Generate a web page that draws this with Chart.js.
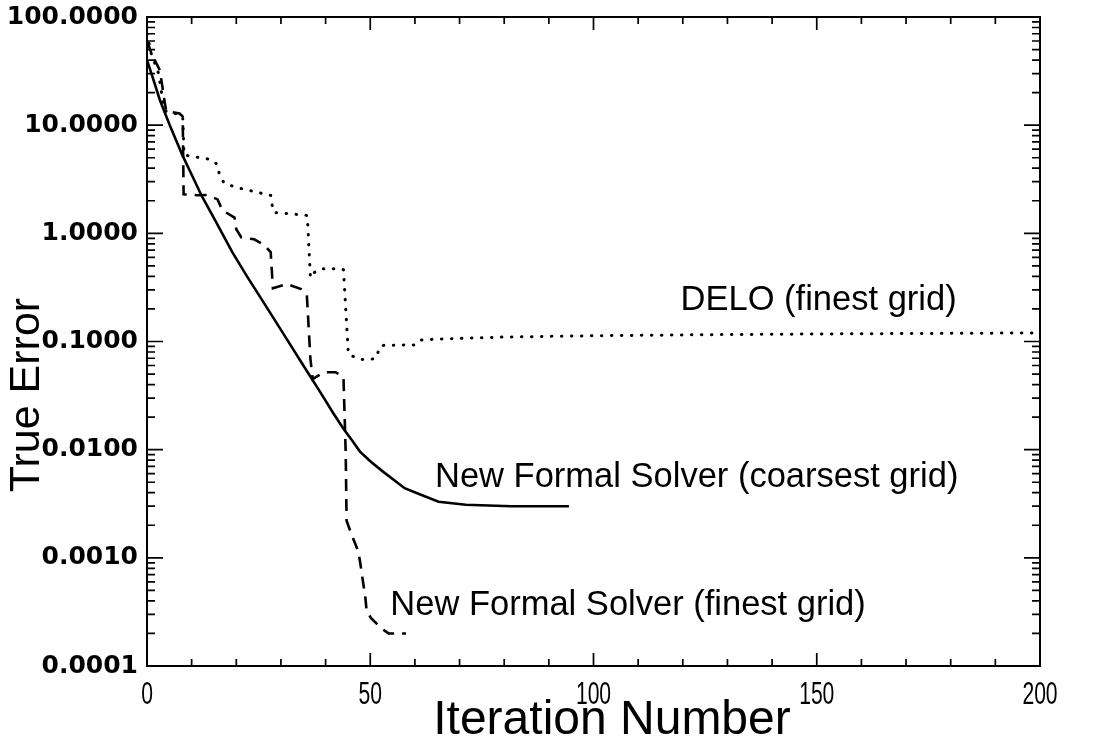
<!DOCTYPE html>
<html><head><meta charset="utf-8">
<script src="https://cdn.jsdelivr.net/npm/chart.js@4/dist/chart.umd.min.js"></script>
<style>html,body{margin:0;padding:0;background:#fff;}canvas{display:block;}</style>
</head><body>
<canvas id="c" width="1096" height="742"></canvas>
<script>
// ---- data ----
const coarseX = [0, 1, 2.9, 5.1, 8.0, 10.2, 12.2, 15.3, 19.1, 22.4, 26.5, 30.6, 34.7, 38.8, 41.8, 44, 45.9, 47.7, 50.2, 53, 57.7, 61.2, 65.3, 71.4, 81.6, 94.5];
const coarseY = [40, 30, 17, 10, 5.2, 3.35, 2.24, 1.31, 0.67, 0.40, 0.217, 0.117, 0.063, 0.034, 0.0215, 0.0156, 0.0122, 0.0096, 0.0077, 0.0062, 0.0044, 0.00385, 0.0033, 0.0031, 0.0030, 0.0030];

const finestX = [0, 1, 2.9, 4.0, 4.3, 7.3, 8.0, 8.2, 11.2, 13.6, 15.8, 16.9, 19.6, 20, 21.1, 24, 26.2, 27.7, 28.2, 31.3, 34.5, 35.8, 36.6, 37.1, 39.6, 42.2, 44, 44.5, 44.7, 45.8, 47.3, 47.7, 48.9, 49.2, 50.2, 52.4, 54.1, 58];
const finestY = [60, 46, 32, 16, 13.5, 12.8, 12, 2.3, 2.25, 2.26, 2.06, 1.63, 1.40, 1.09, 0.92, 0.88, 0.78, 0.67, 0.31, 0.34, 0.305, 0.27, 0.069, 0.045, 0.052, 0.052, 0.047, 0.0095, 0.0022, 0.00165, 0.00115, 0.00093, 0.00043, 0.00032, 0.000277, 0.000224, 0.0002, 0.0002];

const deloX = [0, 1, 2.6, 3.6, 4.1, 7.3, 8.0, 8.3, 14.5, 15.8, 16.2, 17.3, 20.2, 27.7, 27.9, 28.4, 35.6, 35.9, 36.6, 36.9, 38.8, 43.6, 44, 45.1, 47.9, 51.1, 52.4, 60, 61.2, 64.3, 80, 100, 130, 160, 200];
const deloY = [70, 45, 30, 16, 13.5, 12.5, 12, 5.3, 4.8, 4.3, 3.5, 2.9, 2.65, 2.24, 1.93, 1.56, 1.47, 1.45, 0.39, 0.42, 0.47, 0.47, 0.46, 0.076, 0.068, 0.069, 0.092, 0.093, 0.103, 0.105, 0.110, 0.113, 0.116, 0.118, 0.120];

const xTickLabels = ['0', '50', '100', '150', '200'];
const xLabelStep = 50;
const yDecades = [0.0001, 0.001, 0.01, 0.1, 1, 10, 100];
const yTickLabels = ['0.0001', '0.0010', '0.0100', '0.1000', '1.0000', '10.0000', '100.0000'];
const yMinorMultipliers = [2, 3, 4, 5, 6, 7, 8, 9];

const xTitle = 'Iteration Number';
const yTitle = 'True Error';
const noteTexts = ['DELO (finest grid)', 'New Formal Solver (coarsest grid)', 'New Formal Solver (finest grid)'];
const noteX = [119.5, 64.5, 54.5];
const noteY = [0.194, 0.00454, 0.000297];

// ---- helpers ----
const pts = (xs, ys) => xs.map((x, i) => ({x: x, y: ys[i]}));
const isDecade = v => Math.abs(Math.log10(v) - Math.round(Math.log10(v))) < 1e-9;
const yTickValues = [];
yDecades.forEach((d, i) => {
  yTickValues.push(d);
  if (i < yDecades.length - 1) yMinorMultipliers.forEach(m => yTickValues.push(d * m));
});

const frameTicks = {
  id: 'frameTicks',
  afterDatasetsDraw(chart) {
    const {ctx, chartArea: a, scales: {x, y}} = chart;
    ctx.save();
    ctx.strokeStyle = '#000';
    ctx.lineWidth = 2;
    ctx.strokeRect(a.left, a.top, a.right - a.left, a.bottom - a.top);
    ctx.lineWidth = 1.7;
    ctx.beginPath();
    x.ticks.forEach(t => {
      const px = x.getPixelForValue(t.value);
      const len = (t.value % xLabelStep === 0) ? 13 : 7;
      ctx.moveTo(px, a.bottom); ctx.lineTo(px, a.bottom - len);
      ctx.moveTo(px, a.top); ctx.lineTo(px, a.top + len);
    });
    y.ticks.forEach(t => {
      const py = y.getPixelForValue(t.value);
      const len = isDecade(t.value) ? 16 : 8;
      ctx.moveTo(a.left, py); ctx.lineTo(a.left + len, py);
      ctx.moveTo(a.right, py); ctx.lineTo(a.right - len, py);
    });
    ctx.stroke();
    ctx.fillStyle = '#000';
    // x tick labels (narrow face, positioned by the x scale)
    ctx.font = "32px 'Liberation Sans', Arial, sans-serif";
    ctx.textAlign = 'center';
    ctx.textBaseline = 'alphabetic';
    x.ticks.forEach(t => {
      if (t.value % xLabelStep !== 0) return;
      ctx.save();
      ctx.translate(x.getPixelForValue(t.value), a.bottom + 38);
      ctx.scale(0.66, 1);
      ctx.fillText(xTickLabels[t.value / xLabelStep], 0, 0);
      ctx.restore();
    });
    // annotations
    ctx.font = "34.5px 'Liberation Sans', Arial, sans-serif";
    ctx.textAlign = 'left';
    noteTexts.forEach((txt, i) => {
      ctx.fillText(txt, x.getPixelForValue(noteX[i]), y.getPixelForValue(noteY[i]));
    });
    // axis titles
    ctx.textAlign = 'center';
    ctx.font = "48px 'Liberation Sans', Arial, sans-serif";
    ctx.fillText(xTitle, 612, 734);
    ctx.save();
    ctx.translate(39, 395);
    ctx.rotate(-Math.PI / 2);
    ctx.font = "43px 'Liberation Sans', Arial, sans-serif";
    ctx.fillText(yTitle, 0, 0);
    ctx.restore();
    ctx.restore();
  }
};

const common = {pointRadius: 0, borderColor: '#000', borderWidth: 2.6, tension: 0, fill: false};

new Chart(document.getElementById('c'), {
  type: 'line',
  data: {
    datasets: [
      Object.assign({label: 'New Formal Solver (coarsest grid)', data: pts(coarseX, coarseY)}, common),
      Object.assign({label: 'New Formal Solver (finest grid)', data: pts(finestX, finestY), borderDash: [12, 8]}, common),
      Object.assign({label: 'DELO (finest grid)', data: pts(deloX, deloY)}, common, {borderDash: [0.5, 9.5], borderCapStyle: 'round', borderWidth: 3})
    ]
  },
  options: {
    responsive: false,
    animation: false,
    devicePixelRatio: 1,
    layout: {padding: {top: 17, right: 56, left: 0, bottom: 0}},
    plugins: {legend: {display: false}, tooltip: {enabled: false}},
    scales: {
      x: {
        type: 'linear', min: 0, max: 200,
        afterFit: s => { s.height = 76; s.paddingLeft = 0; s.paddingRight = 0; },
        grid: {display: false, drawTicks: false},
        border: {display: false},
        ticks: {
          stepSize: 10, autoSkip: false, maxRotation: 0, display: false
        },
        title: {display: false}
      },
      y: {
        type: 'logarithmic', min: 0.0001, max: 100,
        afterFit: s => { s.width = 147; s.paddingTop = 0; s.paddingBottom = 0; },
        afterBuildTicks: s => { s.ticks = yTickValues.map(v => ({value: v})); },
        grid: {display: false, drawTicks: false},
        border: {display: false},
        ticks: {
          autoSkip: false, padding: 9, color: '#000',
          font: {family: "'DejaVu Sans', sans-serif", size: 25, weight: 'bold'},
          callback: v => isDecade(v) ? yTickLabels[Math.round(Math.log10(v)) + 4] : ''
        },
        title: {display: false}
      }
    }
  },
  plugins: [frameTicks]
});
</script>
</body></html>
